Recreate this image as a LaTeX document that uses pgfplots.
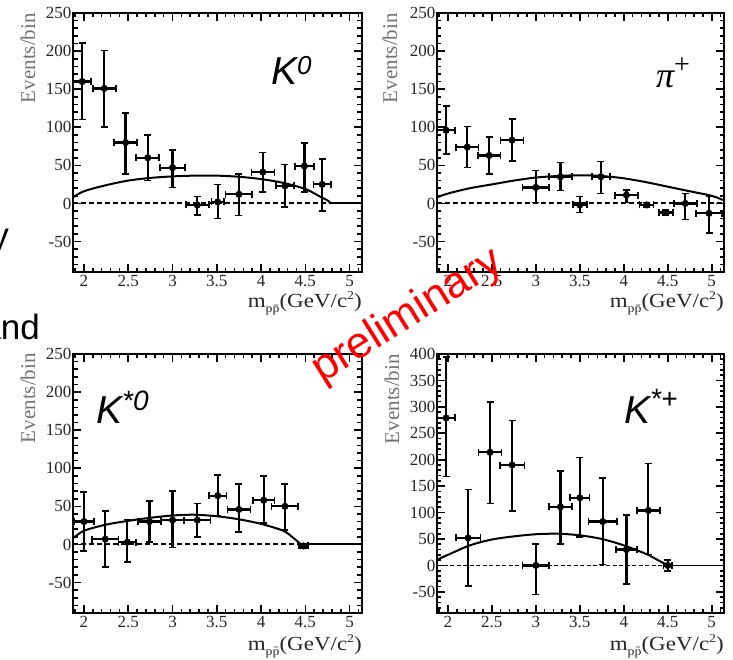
\documentclass[border=0pt]{standalone}
\usepackage{pgfplots}
\usepackage{pgfplotstable}
\pgfplotsset{compat=1.18}
\usepackage{fontspec}
\setmainfont{Liberation Serif}
\newfontfamily\arial{Liberation Sans}
% tick positions (m=1 major, m=0 minor)
\pgfplotstableread{
t m
1.9 0
2.0 1
2.1 0
2.2 0
2.3 0
2.4 0
2.5 1
2.6 0
2.7 0
2.8 0
2.9 0
3.0 1
3.1 0
3.2 0
3.3 0
3.4 0
3.5 1
3.6 0
3.7 0
3.8 0
3.9 0
4.0 1
4.1 0
4.2 0
4.3 0
4.4 0
4.5 1
4.6 0
4.7 0
4.8 0
4.9 0
5.0 1
5.1 0
}\xticktab
\pgfplotstableread{
t m
-80 0
-70 0
-60 0
-50 1
-40 0
-30 0
-20 0
-10 0
0 1
10 0
20 0
30 0
40 0
50 1
60 0
70 0
80 0
90 0
100 1
110 0
120 0
130 0
140 0
150 1
160 0
170 0
180 0
190 0
200 1
210 0
220 0
230 0
240 0
}\ytickA
\pgfplotstableread{
t m
-80 0
-70 0
-60 0
-50 1
-40 0
-30 0
-20 0
-10 0
0 1
10 0
20 0
30 0
40 0
50 1
60 0
70 0
80 0
90 0
100 1
110 0
120 0
130 0
140 0
150 1
160 0
170 0
180 0
190 0
200 1
210 0
220 0
230 0
240 0
250 1
260 0
270 0
280 0
290 0
300 1
310 0
320 0
330 0
340 0
350 1
360 0
370 0
380 0
390 0
}\ytickB
\pgfplotsset{
  rootstyle/.style={
    scale only axis, anchor=south west, height=259pt,
    xmin=1.876, xmax=5.14, ymin=-90, clip=false,
    xtick={2,2.5,3,3.5,4,4.5,5},
    tick align=inside, major tick length=8pt, minor tick length=4.5pt,
    tick style={draw=black, line width=1.6pt},
    axis line style={line width=2.4pt},
    tick label style={font=\fontsize{17}{17}\selectfont, text=black!85},
    yticklabel style={inner xsep=1.5pt},
    /pgf/number format/assume math mode=true,
  },
  tk/.style={forget plot, black, line width=1.6pt, no marks},
  datastyle/.style={black, only marks, mark=*, mark size=3.3pt,
    error bars/.cd, x dir=both, x explicit, y dir=both, y explicit,
    error bar style={line width=2.2pt},
    error mark options={rotate=90, mark size=3.5pt, line width=1.6pt}},
  fitstyle/.style={black, line width=2pt, smooth, no marks},
  zerostyle/.style={black, line width=2pt, dash pattern=on 5pt off 3pt, no marks},
}
% #1 ymax, #2 y tick table, #3 minor len (y units), #4 major extra (y units), #5 minor len (x units), #6 major extra (x units)
\newcommand{\drawticks}[6]{%
\addplot[tk, quiver={u=0, v=#3+#4*\thisrow{m}}] table[x=t, y expr=-90] {\xticktab};
\addplot[tk, quiver={u=0, v=-(#3+#4*\thisrow{m})}] table[x=t, y expr=#1] {\xticktab};
\addplot[tk, quiver={u=#5+#6*\thisrow{m}, v=0}] table[x expr=1.876, y=t] {#2};
\addplot[tk, quiver={u=-(#5+#6*\thisrow{m}), v=0}] table[x expr=5.14, y=t] {#2};
}
\begin{document}
\begin{tikzpicture}
\useasboundingbox (0pt,0pt) rectangle (733pt,659pt);

% ---------- K0 ----------
\begin{axis}[rootstyle, at={(73pt,387pt)}, width=289pt, ymax=250,
  ytick={-50,0,50,100,150,200,250}]
\drawticks{250}{\ytickA}{5.9}{4.6}{0.051}{0.039}
\addplot[zerostyle] coordinates {(1.876,0) (5.14,0)};
\addplot[fitstyle] coordinates {(1.876,8) (2.0,16) (2.25,24) (2.5,30) (2.75,33.5) (3.0,35.5) (3.25,36.5) (3.5,36.5) (3.75,35) (4.0,32) (4.25,27) (4.5,19) (4.65,10) (4.75,4) (4.79,0)};
\addplot[black, line width=2pt, no marks] coordinates {(4.79,0) (5.14,0)};
\addplot[datastyle] table[x=x, y=y, x error=ex, y error plus=yp, y error minus=ym] {
x y ex yp ym
1.98 160 0.10 51 50
2.23 151 0.13 50 51
2.47 80 0.13 39 41
2.72 60 0.13 30 30
3.00 47 0.14 23 26
3.28 -2 0.13 11 13
3.51 2 0.07 23 22
3.75 12 0.15 27 28
4.02 41 0.13 26 26
4.27 23 0.10 28 28
4.49 49 0.11 30 34
4.69 25 0.10 33 35
};
\end{axis}

% ---------- pi+ ----------
\begin{axis}[rootstyle, at={(437pt,387pt)}, width=287pt, ymax=250,
  ytick={-50,0,50,100,150,200,250}]
\drawticks{250}{\ytickA}{5.9}{4.6}{0.051}{0.040}
\addplot[zerostyle] coordinates {(1.876,0) (5.14,0)};
\addplot[fitstyle] coordinates {(1.876,8) (2.0,13) (2.25,20) (2.5,25) (2.75,30) (3.0,34) (3.25,36) (3.5,37) (3.75,36) (4.0,33) (4.25,28) (4.5,22) (4.75,16) (5.0,10) (5.14,4)};
\addplot[datastyle] table[x=x, y=y, x error=ex, y error plus=yp, y error minus=ym] {
x y ex yp ym
1.98 96 0.10 32 31
2.22 74 0.13 27 27
2.47 63 0.13 24 24
2.73 83 0.13 28 27
3.00 21 0.15 22 20
3.28 35 0.13 19 18
3.50 -2 0.08 11 10
3.74 35 0.10 20 22
4.03 11 0.13 7 10
4.26 -2 0.08 3 3
4.48 -12 0.08 3 3
4.70 0 0.13 13 21
4.97 -13 0.15 23 26
};
\end{axis}

% ---------- K*0 ----------
\begin{axis}[rootstyle, at={(73pt,46pt)}, width=289pt, ymax=250,
  ytick={-50,0,50,100,150,200,250}]
\drawticks{250}{\ytickA}{5.9}{4.6}{0.051}{0.039}
\addplot[zerostyle] coordinates {(1.876,0) (5.14,0)};
\addplot[fitstyle] coordinates {(1.876,8) (2.0,18) (2.25,26) (2.5,31) (2.75,35) (3.0,38) (3.25,39) (3.5,37) (3.75,33) (4.0,27) (4.25,18) (4.35,10) (4.45,0)};
\addplot[black, line width=2pt, no marks] coordinates {(4.45,0) (5.14,0)};
\addplot[datastyle] table[x=x, y=y, x error=ex, y error plus=yp, y error minus=ym] {
x y ex yp ym
2.00 30 0.11 39 39
2.24 7 0.15 37 37
2.49 3 0.10 30 26
2.74 30 0.13 27 27
3.00 32 0.13 38 36
3.28 32 0.15 22 22
3.51 64 0.10 27 27
3.75 46 0.13 33 30
4.03 58 0.12 32 30
4.27 50 0.15 29 31
4.48 -2 0.05 3 3
};
\end{axis}

% ---------- K*+ ----------
\begin{axis}[rootstyle, at={(437pt,46pt)}, width=287pt, ymax=400,
  ytick={-50,0,50,100,150,200,250,300,350,400}]
\drawticks{400}{\ytickB}{8.5}{6.6}{0.051}{0.040}
\addplot[black, line width=1.2pt, dash pattern=on 4pt off 2.5pt, no marks] coordinates {(1.876,0) (5.14,0)};
\addplot[fitstyle] coordinates {(1.876,11) (2.0,20) (2.25,38) (2.5,49) (2.75,55) (3.0,59) (3.25,60) (3.5,57) (3.75,50) (4.0,38) (4.25,22) (4.4,9) (4.5,0)};
\addplot[black, line width=1.4pt, no marks] coordinates {(4.5,0) (5.14,0)};
\addplot[datastyle] table[x=x, y=y, x error=ex, y error plus=yp, y error minus=ym] {
x y ex yp ym
1.98 279 0.10 115 111
2.23 52 0.14 92 91
2.48 214 0.13 95 97
2.73 190 0.14 84 87
3.00 0 0.15 40 55
3.28 111 0.13 68 70
3.50 128 0.11 76 74
3.76 83 0.16 82 81
4.03 30 0.12 65 65
4.28 104 0.13 89 83
4.50 0 0.05 10 10
};
\end{axis}

% axis titles
\foreach \xx/\yy in {35/646, 397/646, 35/306, 399/305}{
  \node[rotate=90, anchor=base east, inner sep=0, text=black!55,
        font=\fontsize{21}{21}\selectfont] at (\xx pt,\yy pt) {Events/bin};
}
\foreach \xx/\yy in {362/351, 724/351, 362/9, 724/9}{
  \node[anchor=base east, inner sep=0, xscale=1.15, text=black!85,
        font=\fontsize{20}{20}\selectfont] at (\xx pt,\yy pt)
   {m\raisebox{-5pt}{\fontsize{12}{12}\selectfont p\=p}(GeV/c\raisebox{8pt}{\fontsize{12}{12}\selectfont 2})};
}

% panel labels
\node[anchor=base west, inner sep=0, font=\arial\itshape\fontsize{39}{39}\selectfont] at (271pt,574pt)
  {K\raisebox{10pt}{\fontsize{26}{26}\selectfont 0}};
\node[anchor=base west, inner sep=0, font=\itshape\fontsize{36}{36}\selectfont] at (656pt,571pt)
  {π\raisebox{14pt}{\fontsize{28}{28}\selectfont\upshape +}};
\node[anchor=base west, inner sep=0, font=\arial\itshape\fontsize{39}{39}\selectfont] at (96pt,236pt)
  {K\raisebox{13pt}{\fontsize{28}{28}\selectfont *0}};
\node[anchor=base west, inner sep=0, font=\arial\itshape\fontsize{39}{39}\selectfont] at (624pt,236pt)
  {K\raisebox{14pt}{\fontsize{28}{28}\selectfont *+}};

% stray slide text
\node[anchor=base east, inner sep=0, font=\arial\fontsize{35}{35}\selectfont] at (40pt,319pt) {and};
\node[anchor=base east, inner sep=0, font=\arial\fontsize{35}{35}\selectfont] at (9pt,411pt) {y};

% watermark
\node[rotate=32, text=red, inner sep=0, font=\arial\fontsize{44}{44}\selectfont] at (407.5pt,342.5pt) {preliminary};
\end{tikzpicture}
\end{document}
